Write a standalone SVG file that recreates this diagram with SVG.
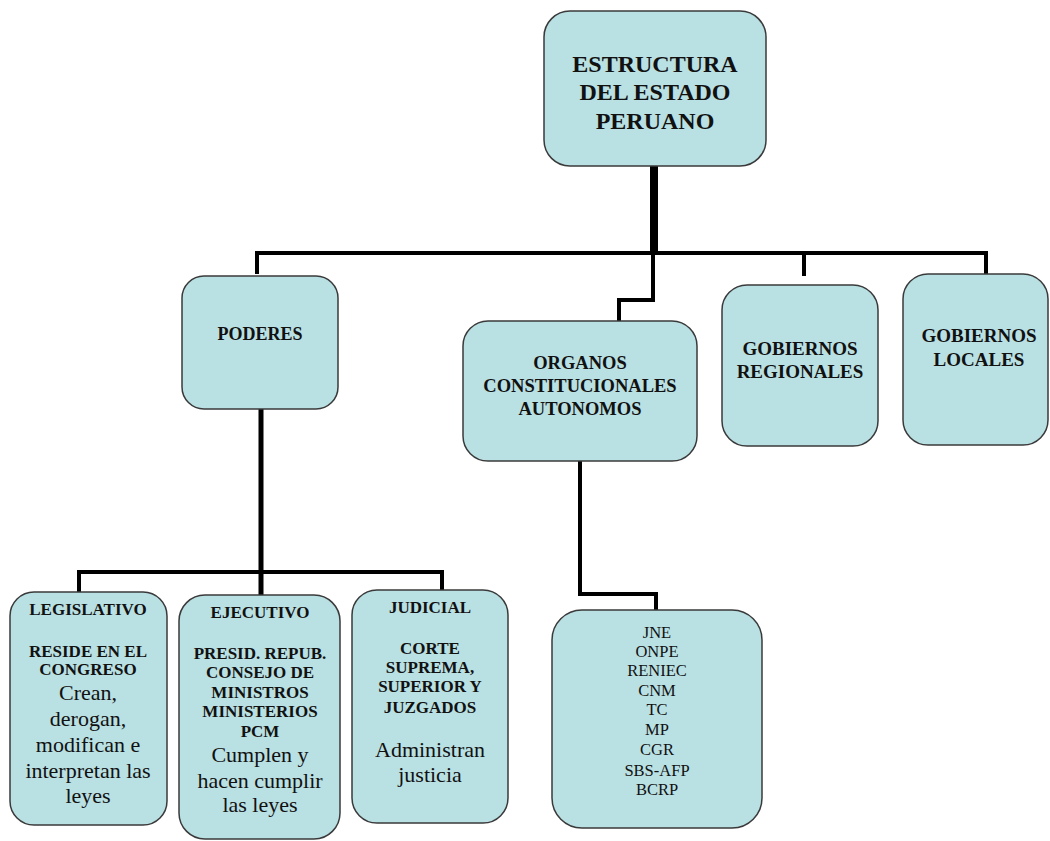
<svg xmlns="http://www.w3.org/2000/svg" width="1050" height="841" viewBox="0 0 1050 841">
<style>
.box{fill:#b9e0e3;stroke:#3a3a3a;stroke-width:1.5}
.t{font-family:"Liberation Serif","Times New Roman",serif;fill:#111;text-anchor:middle}
.b{font-weight:bold}
.c{fill:none;stroke:#000;stroke-width:4;stroke-linejoin:miter;stroke-linecap:butt}
</style>
<rect width="1050" height="841" fill="#fff"/>
<g id="connectors">
<line x1="654" y1="166" x2="654" y2="255" stroke="#000" stroke-width="8"/>
<polyline class="c" points="257,274 257,253 986,253 986,274"/>
<polyline class="c" points="804,253 804,276"/>
<polyline class="c" points="653,253 653,300 619,300 619,321"/>
<line x1="261" y1="409" x2="261" y2="596" stroke="#000" stroke-width="5"/>
<polyline class="c" points="79,593 79,572 442,572 442,591"/>
<polyline class="c" points="580,461 580,594 656,594 656,611"/>
</g>
<g id="estructura">
<rect class="box" x="544" y="11" width="222" height="155" rx="26"/>
<text class="t b" font-size="24"><tspan x="655" y="72">ESTRUCTURA</tspan><tspan x="655" y="100">DEL ESTADO</tspan><tspan x="655" y="129">PERUANO</tspan></text>
</g>
<g id="poderes">
<rect class="box" x="182" y="276" width="156" height="133" rx="22"/>
<text class="t b" font-size="18" x="260" y="340">PODERES</text>
</g>
<g id="organos">
<rect class="box" x="463" y="321" width="234" height="140" rx="25"/>
<text class="t b" font-size="18.5"><tspan x="580" y="369">ORGANOS</tspan><tspan x="580" y="392">CONSTITUCIONALES</tspan><tspan x="580" y="415">AUTONOMOS</tspan></text>
</g>
<g id="gob-regionales">
<rect class="box" x="722" y="285" width="156" height="161" rx="25"/>
<text class="t b" font-size="19"><tspan x="800" y="355">GOBIERNOS</tspan><tspan x="800" y="378">REGIONALES</tspan></text>
</g>
<g id="gob-locales">
<rect class="box" x="903" y="274" width="145" height="171" rx="25"/>
<text class="t b" font-size="19"><tspan x="979" y="342">GOBIERNOS</tspan><tspan x="979" y="366">LOCALES</tspan></text>
</g>
<g id="legislativo">
<rect class="box" x="10" y="592" width="157" height="233" rx="24"/>
<text class="t b" font-size="17"><tspan x="88" y="615">LEGISLATIVO</tspan><tspan x="88" y="657">RESIDE EN EL</tspan><tspan x="88" y="675">CONGRESO</tspan></text>
<text class="t" font-size="22"><tspan x="88" y="700">Crean,</tspan><tspan x="88" y="726">derogan,</tspan><tspan x="88" y="752">modifican e</tspan><tspan x="88" y="778">interpretan las</tspan><tspan x="88" y="803">leyes</tspan></text>
</g>
<g id="ejecutivo">
<rect class="box" x="179" y="595" width="161" height="244" rx="26"/>
<text class="t b" font-size="17"><tspan x="260" y="618">EJECUTIVO</tspan><tspan x="260" y="659">PRESID. REPUB.</tspan><tspan x="260" y="678">CONSEJO DE</tspan><tspan x="260" y="698">MINISTROS</tspan><tspan x="260" y="717">MINISTERIOS</tspan><tspan x="260" y="737">PCM</tspan></text>
<text class="t" font-size="22"><tspan x="260" y="762">Cumplen y</tspan><tspan x="260" y="788">hacen cumplir</tspan><tspan x="260" y="812">las leyes</tspan></text>
</g>
<g id="judicial">
<rect class="box" x="352" y="590" width="156" height="233" rx="25"/>
<text class="t b" font-size="17"><tspan x="430" y="613">JUDICIAL</tspan><tspan x="430" y="654">CORTE</tspan><tspan x="430" y="673">SUPREMA,</tspan><tspan x="430" y="692">SUPERIOR Y</tspan><tspan x="430" y="713">JUZGADOS</tspan></text>
<text class="t" font-size="22"><tspan x="430" y="757">Administran</tspan><tspan x="430" y="782">justicia</tspan></text>
</g>
<g id="organismos">
<rect class="box" x="552" y="610" width="210" height="218" rx="30"/>
<text class="t" font-size="16.5"><tspan x="657" y="638">JNE</tspan><tspan x="657" y="657">ONPE</tspan><tspan x="657" y="676">RENIEC</tspan><tspan x="657" y="696">CNM</tspan><tspan x="657" y="715">TC</tspan><tspan x="657" y="735">MP</tspan><tspan x="657" y="755">CGR</tspan><tspan x="657" y="776">SBS-AFP</tspan><tspan x="657" y="795">BCRP</tspan></text>
</g>
</svg>
